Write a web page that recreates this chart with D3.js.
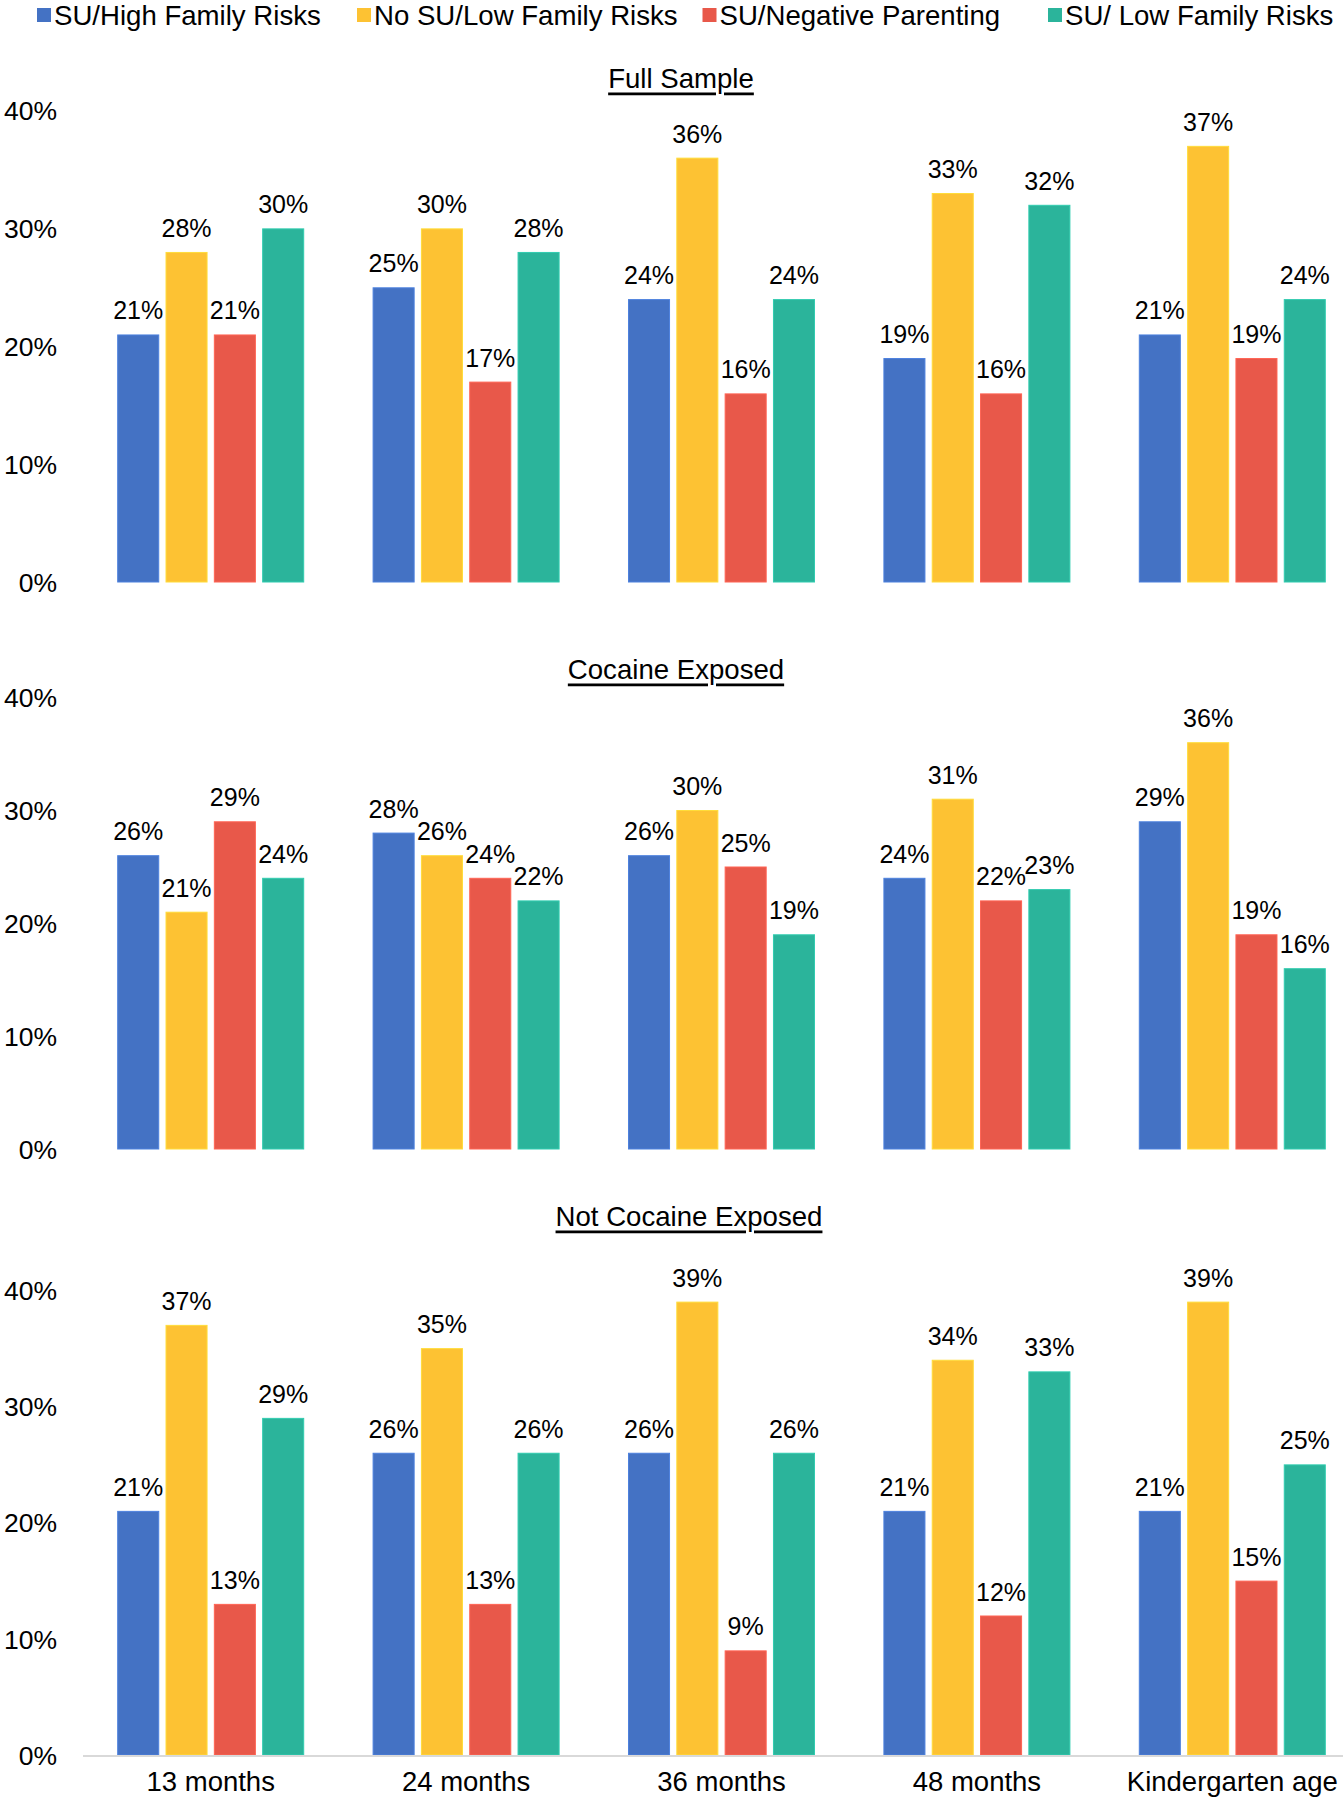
<!DOCTYPE html>
<html>
<head>
<meta charset="utf-8">
<script src="https://cdn.jsdelivr.net/npm/d3@7/dist/d3.min.js"></script>
<style>
  html, body { margin: 0; padding: 0; background: #fff; }
  svg { display: block; font-family: "Liberation Sans", Arial, Helvetica, sans-serif; }
</style>
</head>
<body>
<svg id="chart" width="1343" height="1800"></svg>
<script>
// ---------- DATA ----------
const categories = ["13 months", "24 months", "36 months", "48 months", "Kindergarten age"];
const seriesNames = ["SU/High Family Risks", "No SU/Low Family Risks", "SU/Negative Parenting", "SU/ Low Family Risks"];
const seriesColors = ["#4472C4", "#FDC233", "#E8584A", "#2BB49B"];
const panelTitles = ["Full Sample", "Cocaine Exposed", "Not Cocaine Exposed"];
const yTicks = [0, 10, 20, 30, 40];

// values per series (rows) across categories (columns), in percent
const fullSampleValues = [
  [21, 25, 24, 19, 21],
  [28, 30, 36, 33, 37],
  [21, 17, 16, 16, 19],
  [30, 28, 24, 32, 24]
];
const cocaineExposedValues = [
  [26, 28, 26, 24, 29],
  [21, 26, 30, 31, 36],
  [29, 24, 25, 22, 19],
  [24, 22, 19, 23, 16]
];
const notCocaineExposedValues = [
  [21, 26, 26, 21, 21],
  [37, 35, 39, 34, 39],
  [13, 13, 9, 12, 15],
  [29, 26, 26, 33, 25]
];

// ---------- LAYOUT ----------
const svg = d3.select("#chart");
const panels = [
  { title: panelTitles[0], values: fullSampleValues, y0: 582, y40: 110.5, titleX: 681, titleY: 78, axisLine: false, catLabels: false },
  { title: panelTitles[1], values: cocaineExposedValues, y0: 1149, y40: 697, titleX: 676, titleY: 669, axisLine: false, catLabels: false },
  { title: panelTitles[2], values: notCocaineExposedValues, y0: 1755, y40: 1290, titleX: 689, titleY: 1216, axisLine: true, catLabels: true }
];

const x0 = d3.scaleBand().domain(categories).range([83, 1360]).paddingInner(0).paddingOuter(0);
const groupW = 187;
const x1 = d3.scaleBand().domain(d3.range(seriesNames.length))
  .range([(x0.bandwidth() - groupW) / 2, (x0.bandwidth() + groupW) / 2])
  .paddingInner(0.13).paddingOuter(0);

// ---------- LEGEND ----------
const legendX = [37, 357, 702.5, 1048];
const legend = svg.append("g");
seriesNames.forEach((name, i) => {
  legend.append("rect").attr("x", legendX[i]).attr("y", 8).attr("width", 14).attr("height", 14)
    .attr("fill", seriesColors[i]);
  legend.append("text").attr("x", legendX[i] + 17).attr("y", 15)
    .attr("dominant-baseline", "central").attr("font-size", 27.6).attr("fill", "#000").text(name);
});

// ---------- PANELS ----------
panels.forEach(p => {
  const y = d3.scaleLinear().domain([0, 40]).range([p.y0, p.y40]);
  const g = svg.append("g");

  // title (underlined)
  g.append("text").attr("x", p.titleX).attr("y", p.titleY)
    .attr("text-anchor", "middle").attr("dominant-baseline", "central")
    .attr("font-size", 27.6).attr("fill", "#000").attr("text-decoration", "underline").text(p.title);

  // y axis labels
  const yAxis = d3.axisLeft(y).tickValues(yTicks).tickFormat(d => d + "%").tickSize(0).tickPadding(0);
  const ya = g.append("g").attr("transform", "translate(57,0)").call(yAxis);
  ya.select(".domain").remove();
  ya.selectAll("text").attr("font-size", 26.5).attr("fill", "#000")
    .attr("font-family", "'Liberation Sans', Arial, sans-serif").attr("dy", "0.35em");

  // bars
  const groups = g.selectAll("g.cat").data(categories).join("g").attr("class", "cat")
    .attr("transform", c => `translate(${x0(c)},0)`);
  groups.each(function(c, ci) {
    const gg = d3.select(this);
    const vals = p.values.map((row, si) => ({ si, v: row[ci] }));
    gg.selectAll("rect").data(vals).join("rect")
      .attr("x", d => x1(d.si) + 0.5).attr("width", x1.bandwidth() - 1)
      .attr("y", d => y(d.v) + 0.5).attr("height", d => y(0) - y(d.v) - 0.5)
      .attr("fill", d => seriesColors[d.si])
      .attr("stroke", d => d3.color(seriesColors[d.si]).brighter(0.35))
      .attr("stroke-width", 1);
    gg.selectAll("text").data(vals).join("text")
      .attr("x", d => x1(d.si) + x1.bandwidth() / 2).attr("y", d => y(d.v) - 15)
      .attr("text-anchor", "middle").attr("font-size", 25).attr("fill", "#000")
      .text(d => d.v + "%");
  });

  if (p.axisLine) {
    g.append("line").attr("x1", 83).attr("x2", 1343).attr("y1", y(0) + 1).attr("y2", y(0) + 1)
      .attr("stroke", "#D9D9D9").attr("stroke-width", 2);
  }
  if (p.catLabels) {
    const xAxis = d3.axisBottom(x0).tickSize(0).tickPadding(0);
    const xa = g.append("g").attr("transform", `translate(0,${y(0)})`).call(xAxis);
    xa.select(".domain").remove();
    xa.selectAll("text").attr("font-size", 27.5).attr("fill", "#000")
      .attr("font-family", "'Liberation Sans', Arial, sans-serif")
      .attr("y", 26).attr("dy", "0.35em");
  }
});
</script>
</body>
</html>
